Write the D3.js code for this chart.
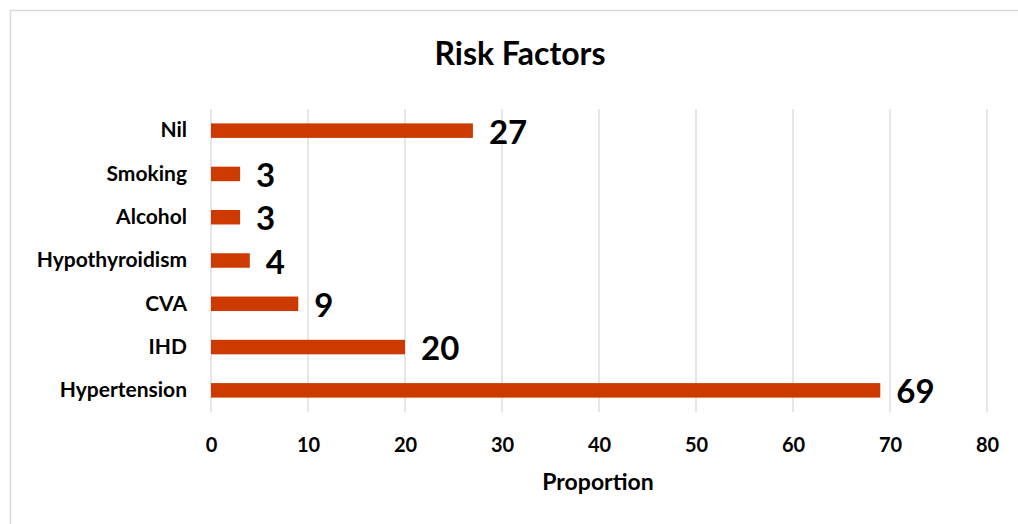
<!DOCTYPE html>
<html>
<head>
<meta charset="utf-8">
<script src="https://cdn.jsdelivr.net/npm/d3@7"></script>
<style>
html,body{margin:0;padding:0;background:#fff;}
svg{display:block;font-family:Lato, "Open Sans", sans-serif;}
</style>
</head>
<body>
<svg id="chart" width="1018" height="524"></svg>
<script>
const categories = ["Nil","Smoking","Alcohol","Hypothyroidism","CVA","IHD","Hypertension"];
const values = [27,3,3,4,9,20,69];
const xTicks = [0,10,20,30,40,50,60,70,80];
const title = "Risk Factors";
const xTitle = "Proportion";

(function(){
const svg = d3.select("#chart");
const pLeft = 211, pRight = 987, pTop = 109, pBottom = 412;

svg.append("rect").attr("x",10.5).attr("y",10.5).attr("width",1020).attr("height",530)
  .attr("fill","#fff").attr("stroke","#d9d9d9").attr("stroke-width",1.5);

const x = d3.scaleLinear().domain([0,80]).range([pLeft,pRight]);
const y = d3.scaleBand().domain(categories).range([pTop,pBottom]).paddingInner(0.665).paddingOuter(0.3325);

svg.append("g").selectAll("line").data(xTicks).join("line")
  .attr("x1",d=>x(d)).attr("x2",d=>x(d)).attr("y1",pTop).attr("y2",pBottom)
  .attr("stroke","#d9d9d9").attr("stroke-width",1.3);

svg.append("g").selectAll("rect").data(values).join("rect")
  .attr("x",x(0)).attr("y",(d,i)=>y(categories[i]))
  .attr("width",d=>x(d)-x(0)).attr("height",y.bandwidth())
  .attr("fill","#CC3A00");

svg.append("g").selectAll("text").data(values).join("text")
  .attr("x",d=>x(d)+16).attr("y",(d,i)=>y(categories[i])+y.bandwidth()/2+13)
  .attr("font-size",33).attr("font-weight","bold").attr("fill","#000")
  .text(d=>d);

const yAxis = d3.axisLeft(y).tickSize(0).tickPadding(24);
const gy = svg.append("g").attr("transform",`translate(${pLeft},0)`).call(yAxis);
gy.select(".domain").remove();
gy.selectAll("text").attr("font-size",21).attr("font-weight","bold").attr("fill","#000")
  .attr("font-family","Lato, sans-serif");

const xAxis = d3.axisBottom(x).tickValues(xTicks).tickSize(0);
const gx = svg.append("g").attr("transform",`translate(0,${pBottom})`).call(xAxis);
gx.select(".domain").remove();
gx.selectAll("text").attr("y",40).attr("dy",null).attr("font-size",20).attr("font-weight","bold").attr("fill","#000")
  .attr("font-family","Lato, sans-serif");

svg.append("text").attr("x",520).attr("y",65).attr("text-anchor","middle")
  .attr("font-size",32).attr("font-weight","bold").attr("fill","#000").text(title);

svg.append("text").attr("x",598).attr("y",490).attr("text-anchor","middle")
  .attr("font-size",23).attr("font-weight","bold").attr("fill","#000").text(xTitle);
})();
</script>
</body>
</html>
